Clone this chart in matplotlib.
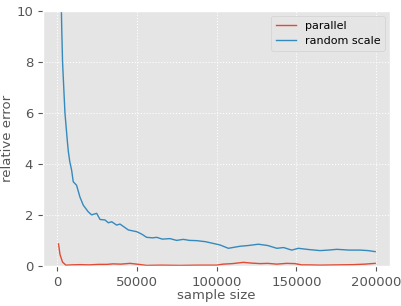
import numpy as np
import matplotlib.pyplot as plt

plt.style.use('ggplot')

# parallel estimator
par_n = [1000, 1900, 3500, 5600, 9000, 14400, 20000, 26000, 31200, 35100, 40000, 45800,
         50000, 56200, 65000, 77100, 88000, 100100, 104100, 110000, 116800, 122000, 127300,
         132000, 137700, 144000, 149200, 153400, 158000, 165000, 175000, 185800, 193000, 199400]
par_err = [0.86, 0.45, 0.15, 0.03, 0.04, 0.05, 0.04, 0.06, 0.06, 0.08, 0.07, 0.1,
           0.07, 0.02, 0.03, 0.02, 0.03, 0.03, 0.07, 0.09, 0.14, 0.11, 0.09,
           0.1, 0.07, 0.1, 0.09, 0.04, 0.04, 0.03, 0.04, 0.05, 0.07, 0.1]

# random scale estimator
rs_n = [1000, 2000, 3000, 3500, 5000, 6500, 7100, 8000, 9200, 10200, 12300, 14400, 16500,
        19600, 21700, 24900, 27000, 30100, 32200, 34300, 37400, 39500, 44700, 50000, 53000,
        56200, 60000, 62500, 66000, 70800, 75000, 79200, 83000, 87600, 93000, 98000, 102200,
        107400, 114700, 120000, 126200, 132000, 137800, 142000, 147100, 151300, 158000,
        164900, 170000, 175400, 183000, 190000, 195000, 199400]
rs_err = [18.0, 12.5, 9.3, 8.0, 6.0, 4.9, 4.5, 4.1, 3.75, 3.3, 3.16, 2.7, 2.38,
          2.12, 2.0, 2.06, 1.82, 1.8, 1.69, 1.73, 1.6, 1.64, 1.41, 1.34, 1.25,
          1.12, 1.1, 1.12, 1.05, 1.07, 1.0, 1.04, 1.0, 0.99, 0.95, 0.88, 0.82,
          0.69, 0.77, 0.8, 0.85, 0.8, 0.69, 0.72, 0.62, 0.69, 0.64,
          0.6, 0.62, 0.65, 0.62, 0.62, 0.6, 0.56]

fig = plt.figure(figsize=(4.01, 3.06), dpi=100)
ax = fig.add_axes([0.107, 0.131, 0.866, 0.834])
ax.plot(par_n, par_err, lw=1.0, label='parallel')
ax.plot(rs_n, rs_err, lw=1.0, label='random scale')
ax.set_ylim(0, 10)
ax.set_xlim(-8800, 208800)
ax.set_xticks([0, 50000, 100000, 150000, 200000])
ax.grid(ls=':', lw=0.8)
ax.tick_params(labelsize=9.5)
ax.set_xlabel('sample size', fontsize=9.5, labelpad=0)
ax.set_ylabel('relative error', fontsize=9.5, labelpad=2)
ax.legend(loc='upper right', fontsize=8, handlelength=1.8)
plt.savefig('out.png', dpi=100)
